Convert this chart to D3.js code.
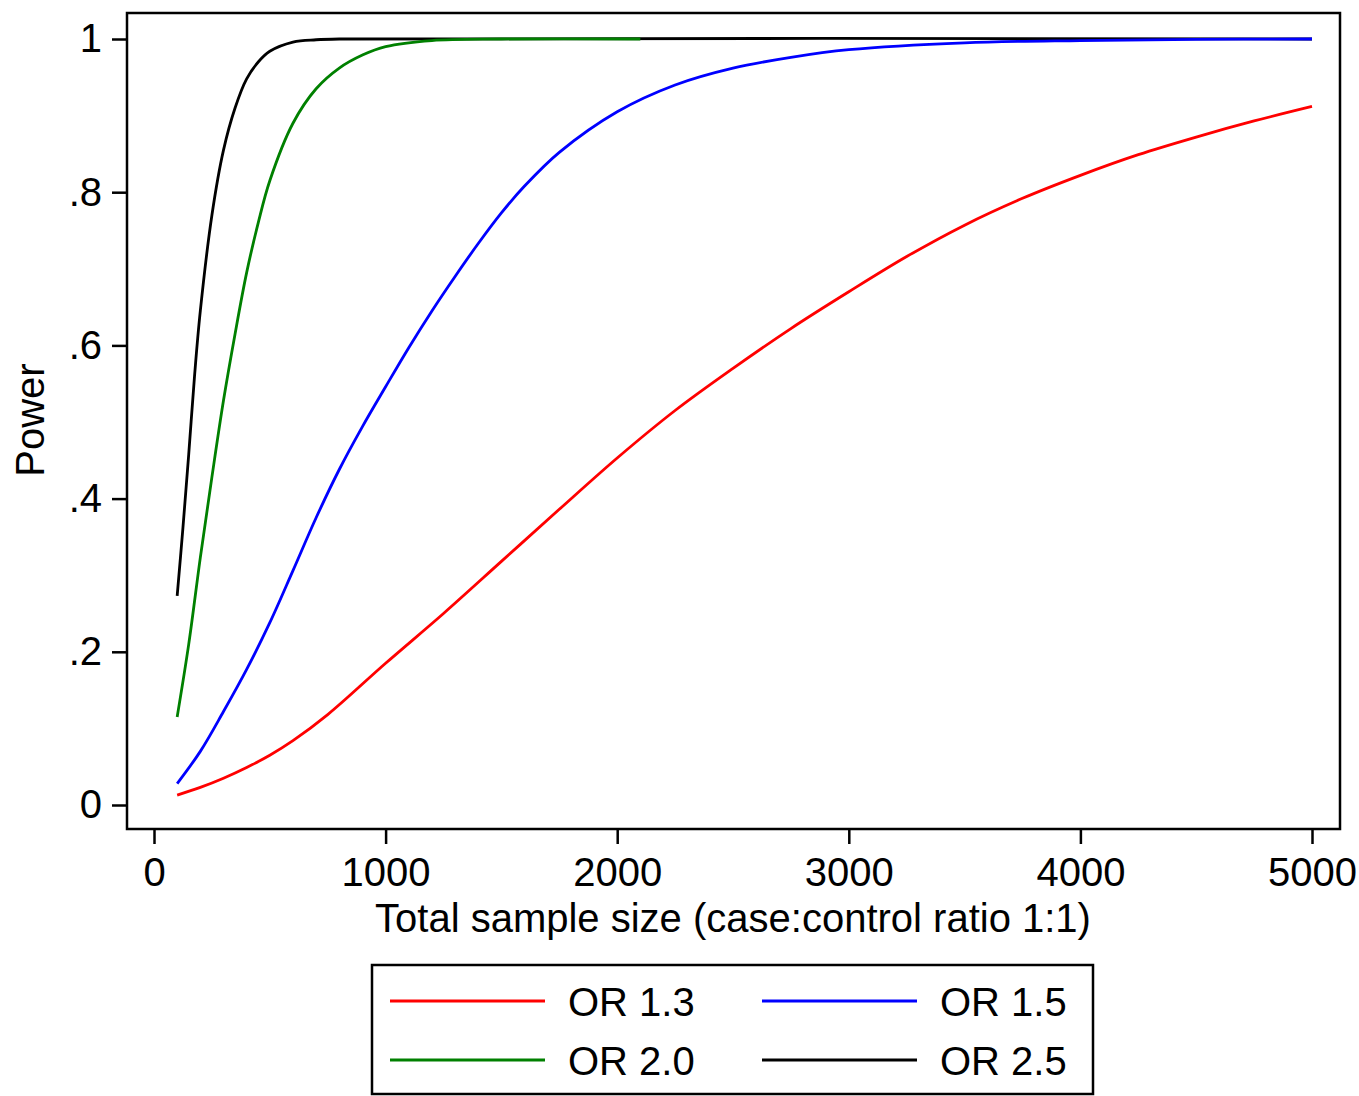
<!DOCTYPE html>
<html>
<head>
<meta charset="utf-8">
<script src="https://cdn.jsdelivr.net/npm/d3@7"></script>
<style>
  html, body { margin: 0; padding: 0; background: #fff; }
  svg { display: block; }
  text { font-family: "Liberation Sans", Arial, Helvetica, sans-serif; fill: #000; }
</style>
</head>
<body>
<svg id="chart" width="1359" height="1096"></svg>
<script>
// ---- data ----
const seriesNames = ["OR 1.3", "OR 1.5", "OR 2.0", "OR 2.5"];
const seriesColors = ["#ff0000", "#0000ff", "#008000", "#000000"];

const nOR13 = [100, 200, 300, 400, 500, 600, 750, 1000, 1250, 1500, 1750, 2000, 2250, 2500, 2750, 3000, 3250, 3500, 3750, 4000, 4250, 4500, 4750, 5000];
const pOR13 = [0.013, 0.023, 0.035, 0.049, 0.065, 0.084, 0.118, 0.185, 0.25, 0.318, 0.386, 0.453, 0.515, 0.57, 0.622, 0.67, 0.716, 0.757, 0.792, 0.822, 0.849, 0.872, 0.893, 0.912];

const nOR15 = [100, 200, 300, 400, 500, 600, 700, 800, 900, 1000, 1100, 1200, 1300, 1400, 1500, 1600, 1750, 2000, 2250, 2500, 2750, 3000, 3500, 4000, 4500, 5000];
const pOR15 = [0.028, 0.07, 0.122, 0.177, 0.238, 0.306, 0.375, 0.438, 0.494, 0.546, 0.597, 0.645, 0.69, 0.733, 0.773, 0.808, 0.852, 0.905, 0.94, 0.962, 0.976, 0.986, 0.995, 0.998, 0.9995, 1.0];

const nOR20 = [100, 150, 200, 250, 300, 350, 400, 450, 500, 600, 700, 800, 900, 1000, 1200, 1500, 2100];
const pOR20 = [0.115, 0.21, 0.323, 0.428, 0.528, 0.615, 0.695, 0.76, 0.815, 0.89, 0.935, 0.962, 0.979, 0.99, 0.998, 1.0, 1.0];

const nOR25 = [100, 125, 150, 175, 200, 250, 300, 350, 400, 450, 500, 600, 700, 800, 5000];
const pOR25 = [0.273, 0.362, 0.458, 0.56, 0.645, 0.77, 0.855, 0.91, 0.948, 0.97, 0.984, 0.996, 0.999, 1.0, 1.0];

const xTicks = [0, 1000, 2000, 3000, 4000, 5000];
const yTicks = [0, 0.2, 0.4, 0.6, 0.8, 1];
const yTickLabels = ["0", ".2", ".4", ".6", ".8", "1"];
const xTitle = "Total sample size (case:control ratio 1:1)";
const yTitle = "Power";

// ---- layout ----
const svg = d3.select("#chart");
const box = { left: 127, right: 1340, top: 13, bottom: 829 };
const x = d3.scaleLinear().domain([0, 5000]).range([154, 1312]);
const y = d3.scaleLinear().domain([0, 1]).range([805, 39]);
const FS = 40;

const series = [
  { name: seriesNames[0], color: seriesColors[0], n: nOR13, p: pOR13 },
  { name: seriesNames[1], color: seriesColors[1], n: nOR15, p: pOR15 },
  { name: seriesNames[2], color: seriesColors[2], n: nOR20, p: pOR20 },
  { name: seriesNames[3], color: seriesColors[3], n: nOR25, p: pOR25 }
];

// plot box
svg.append("rect")
  .attr("x", box.left).attr("y", box.top)
  .attr("width", box.right - box.left).attr("height", box.bottom - box.top)
  .attr("fill", "#fff").attr("stroke", "#000").attr("stroke-width", 2.5);

// curves
const line = d3.line()
  .x(d => x(d[0])).y(d => y(d[1]))
  .curve(d3.curveCatmullRom.alpha(0.5));

const drawOrder = [3, 2, 1, 0];
drawOrder.forEach(i => {
  const s = series[i];
  svg.append("path")
    .datum(s.n.map((v, k) => [v, s.p[k]]))
    .attr("d", line)
    .attr("fill", "none")
    .attr("stroke", s.color)
    .attr("stroke-width", 2.8)
    .attr("stroke-linejoin", "round");
});

// x axis
const xAxis = d3.axisBottom(x).tickValues(xTicks).tickFormat(d3.format("d"))
  .tickSize(15).tickPadding(14);
const gx = svg.append("g").attr("transform", `translate(0,${box.bottom})`).call(xAxis);
gx.select(".domain").remove();
gx.selectAll(".tick line").attr("stroke", "#000").attr("stroke-width", 2.5);
gx.selectAll(".tick text").attr("font-size", FS).attr("font-family", "Liberation Sans, Arial, sans-serif").attr("fill", "#000");

// y axis
const yAxis = d3.axisLeft(y).tickValues(yTicks).tickFormat((d, i) => yTickLabels[i])
  .tickSize(15).tickPadding(10);
const gy = svg.append("g").attr("transform", `translate(${box.left},0)`).call(yAxis);
gy.select(".domain").remove();
gy.selectAll(".tick line").attr("stroke", "#000").attr("stroke-width", 2.5);
gy.selectAll(".tick text").attr("font-size", FS).attr("font-family", "Liberation Sans, Arial, sans-serif").attr("fill", "#000");

// titles
svg.append("text")
  .attr("x", 733).attr("y", 932)
  .attr("text-anchor", "middle").attr("font-size", FS)
  .text(xTitle);
svg.append("text")
  .attr("transform", "translate(44,420) rotate(-90)")
  .attr("text-anchor", "middle").attr("font-size", FS)
  .text(yTitle);

// legend
const lg = { left: 372, right: 1093, top: 965, bottom: 1094 };
svg.append("rect")
  .attr("x", lg.left).attr("y", lg.top)
  .attr("width", lg.right - lg.left).attr("height", lg.bottom - lg.top)
  .attr("fill", "#fff").attr("stroke", "#000").attr("stroke-width", 2.5);

const colX = [390, 762];
const rowY = [1001, 1060];
series.forEach((s, i) => {
  const cx = colX[i % 2], cy = rowY[Math.floor(i / 2)];
  svg.append("line")
    .attr("x1", cx).attr("x2", cx + 155)
    .attr("y1", cy).attr("y2", cy)
    .attr("stroke", s.color).attr("stroke-width", 2.8);
  svg.append("text")
    .attr("x", cx + 178).attr("y", cy + 15)
    .attr("font-size", FS)
    .text(s.name);
});
</script>
</body>
</html>
